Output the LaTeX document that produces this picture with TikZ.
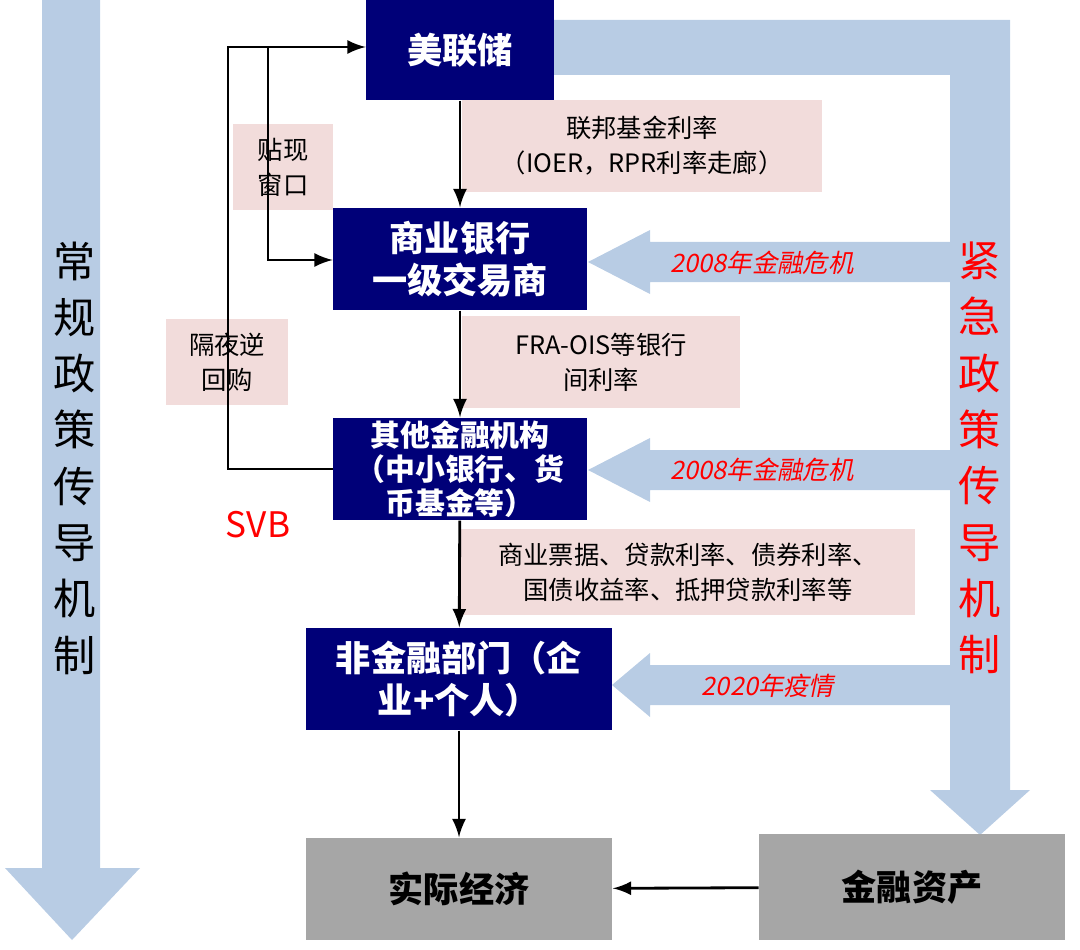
\documentclass[tikz,border=0pt]{standalone}
\usepackage{fontspec}
\setmainfont{Noto Sans CJK SC}
\newfontfamily\slantcjk[FakeSlant=0.2]{Noto Sans CJK SC}
\usetikzlibrary{positioning}
\definecolor{navy}{RGB}{0,0,120}
\definecolor{band}{RGB}{184,204,228}
\definecolor{pinkbg}{RGB}{242,220,219}
\definecolor{graybox}{RGB}{166,166,166}
\tikzset{
  box/.style={fill=navy,text=white,font=\fontsize{10}{12}\selectfont\bfseries,align=center,inner sep=0pt},
  gbox/.style={fill=graybox,text=black,font=\fontsize{10}{12}\selectfont\bfseries,align=center,inner sep=0pt},
  note/.style={fill=pinkbg,font=\fontsize{7.2}{10}\selectfont,align=center,inner sep=0pt},
  crisis/.style={text=red,font=\fontsize{7.2}{9}\slantcjk},
  link/.style={draw,line width=0.8pt,-latex}
}
\begin{document}
\begin{tikzpicture}[x=0.01cm,y=-0.01cm]
  \useasboundingbox (0,0) rectangle (1080,949);
  % big arrows
  \fill[band] (42,0) -- (100,0) -- (100,868) -- (140,868) -- (72,940) -- (5,868) -- (42,868) -- cycle;
  \fill[band] (553,20) -- (1010,20) -- (1010,790) -- (1030,790) -- (980,835) -- (930,790) -- (950,790) -- (950,75) -- (553,75) -- cycle;
  \foreach \yy/\tip in {262/588,470/588,685/612}{
    \fill[band] (950,\yy-20) -- (650,\yy-20) -- (650,\yy-32) -- (\tip,\yy) -- (650,\yy+32) -- (650,\yy+20) -- (950,\yy+20) -- cycle;
  }
  \node[crisis] (c1) at (762,263) {2008年金融危机};
  \node[crisis] (c2) at (762,470) {2008年金融危机};
  \node[crisis] (c3) at (768,686) {2020年疫情};
  \node[font=\fontsize{12}{13}\selectfont,align=center] (lt) at (75,458) {常\\[3pt]规\\[3pt]政\\[3pt]策\\[3pt]传\\[3pt]导\\[3pt]机\\[3pt]制};
  \node[font=\fontsize{12}{13}\selectfont,align=center,text=red] (rt) at (980,458) {紧\\[3pt]急\\[3pt]政\\[3pt]策\\[3pt]传\\[3pt]导\\[3pt]机\\[3pt]制};
  % boxes
  \node[box,minimum width=1.87cm,minimum height=1cm] (fed) at (460,50) {美联储};
  \node[box,minimum width=2.53cm,minimum height=1.02cm] (bank) at (460,259) {商业银行\\一级交易商};
  \node[box,minimum width=2.53cm,minimum height=1.02cm,font=\fontsize{8.5}{9.6}\selectfont\bfseries] (other) at (460,469) {其他金融机构\\（中小银行、货\\币基金等）};
  \node[box,minimum width=3.06cm,minimum height=1.02cm] (nonfin) at (459,679) {非金融部门（企\\业+个人）};
  \node[gbox,minimum width=3.06cm,minimum height=1.02cm] (real) at (459,889) {实际经济};
  \node[gbox,minimum width=3.05cm,minimum height=1.05cm] (asset) at (912,887) {金融资产};
  % notes
  \node[note,minimum width=3.6cm,minimum height=0.92cm] (ffr) at (642,146) {联邦基金利率\\（IOER，RPR利率走廊）};
  \node[note,minimum width=0.99cm,minimum height=0.85cm] (disc) at (283,167) {贴现\\窗口};
  \node[note,minimum width=2.78cm,minimum height=0.92cm] (fra) at (601,362) {FRA-OIS等银行\\间利率};
  \node[note,minimum width=1.22cm,minimum height=0.85cm] (rrp) at (227,362) {隔夜逆\\回购};
  \node[note,minimum width=4.53cm,minimum height=0.85cm] (cp) at (688,572) {商业票据、贷款利率、债券利率、\\国债收益率、抵押贷款利率等};
  \node[text=red,font=\fontsize{10}{12}\selectfont] (svb) at (258,525) {SVB};
  % connectors
  \draw[link] (fed) -- (bank);
  \draw[link] (bank) -- (other);
  \draw[link] (other) -- (nonfin);
  \draw[link] (nonfin) -- (real);
  \draw[link] (asset) -- (real);
  \coordinate (up) at (228,47);
  \coordinate (br) at (268,47);
  \draw[link] (other.west) -| (up) -- (fed.west |- up);
  \draw[link] (br) |- (bank.west |- 0,260);
\end{tikzpicture}
\end{document}
